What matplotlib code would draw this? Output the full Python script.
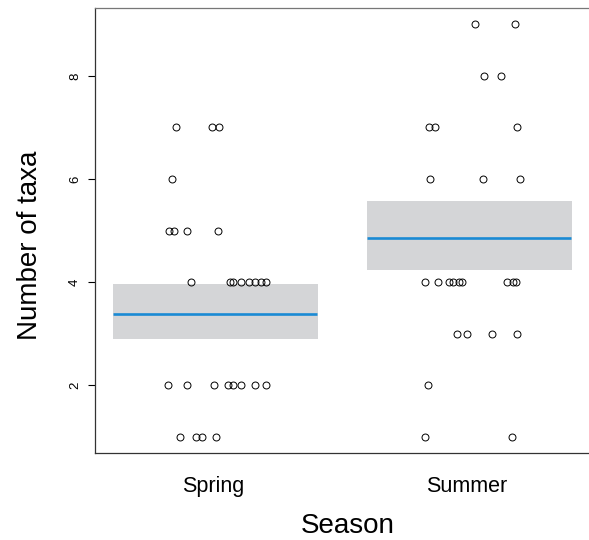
"""Partial-residual plot: number of taxa by season (visreg style)."""

import matplotlib
matplotlib.use("Agg")
from matplotlib import pyplot as plt

plt.rcParams["font.family"] = ["Liberation Sans", "DejaVu Sans"]

SEASONS = ["Spring", "Summer"]

# fitted values and confidence bands per season
FIT = [3.385, 4.85]
LOWER = [2.90, 4.24]
UPPER = [3.96, 5.57]

# partial residuals (jittered x position, number of taxa)
SPRING_X = [0.854, 0.997, 1.022, 0.840, 0.827, 0.846, 0.898, 1.019,
            0.913, 1.067, 1.079, 1.110, 1.142, 1.165, 1.189, 1.209,
            0.822, 0.898, 1.003, 1.058, 1.078, 1.109, 1.167, 1.209,
            0.869, 0.932, 0.956, 1.011]
SPRING_Y = [7, 7, 7, 6, 5, 5, 5, 5,
            4, 4, 4, 4, 4, 4, 4, 4,
            2, 2, 2, 2, 2, 2, 2, 2,
            1, 1, 1, 1]
SUMMER_X = [2.030, 2.189, 2.067, 2.134, 1.849, 1.874, 2.196,
            1.854, 2.064, 2.210,
            1.835, 1.887, 1.930, 1.944, 1.970, 1.979, 2.156, 2.182, 2.193,
            1.959, 1.999, 2.098, 2.196,
            1.846, 1.833, 2.176]
SUMMER_Y = [9, 9, 8, 8, 7, 7, 7,
            6, 6, 6,
            4, 4, 4, 4, 4, 4, 4, 4, 4,
            3, 3, 3, 3,
            2, 1, 1]

fig = plt.figure(figsize=(5.89, 5.40), dpi=100)
# right edge of the plot region lies beyond the image, as in the original crop
ax = fig.add_axes([95 / 589, 87 / 540, 511.7 / 589, 445 / 540])

for i, pos in enumerate([1, 2]):
    ax.fill_between([pos - 0.395, pos + 0.412], LOWER[i], UPPER[i],
                    color="#d4d5d7", lw=0, zorder=1)
    ax.plot([pos - 0.395, pos + 0.408], [FIT[i], FIT[i]],
            color="#1a8ad4", lw=1.9, solid_capstyle="butt", zorder=2)

for xs, ys in [(SPRING_X, SPRING_Y), (SUMMER_X, SUMMER_Y)]:
    ax.plot(xs, ys, "o", mfc="none", mec="black", ms=5, mew=0.7, zorder=3)

ax.set_xlim(0.5354, 2.55)
ax.set_ylim(0.68, 9.32)
ax.set_yticks([2, 4, 6, 8])
ax.set_xticks([1, 2])
ax.set_xticklabels(SEASONS, fontsize=15.5)
ax.tick_params(axis="x", length=0, pad=16.5)
ax.tick_params(axis="y", length=5, width=0.8, pad=5, labelsize=9.5)
for lab in ax.get_yticklabels():
    lab.set_rotation(90)
    lab.set_va("center")

for side in ["left", "bottom", "top", "right"]:
    ax.spines[side].set_linewidth(0.9)
    ax.spines[side].set_color("#333333")
ax.spines["top"].set_color("#777777")

ax.set_xlabel("Season", fontsize=20)
ax.set_ylabel("Number of taxa", fontsize=20)
ax.xaxis.set_label_coords(348 / 589, 14 / 540, transform=fig.transFigure)
ax.xaxis.label.set_va("center")
ax.yaxis.set_label_coords(30 / 589, 1 - 245 / 540, transform=fig.transFigure)
ax.yaxis.label.set_va("center")

fig.savefig("out.png", dpi=100)
